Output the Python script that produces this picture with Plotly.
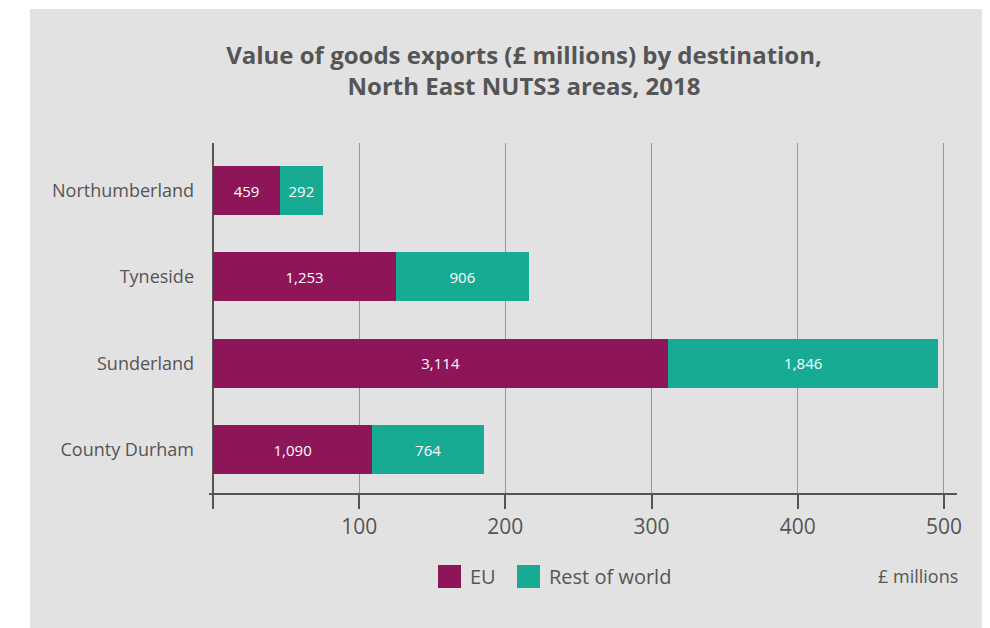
import plotly.graph_objects as go

AREAS = ["Northumberland", "Tyneside", "Sunderland", "County Durham"]
EU = [459, 1253, 3114, 1090]
REST_OF_WORLD = [292, 906, 1846, 764]
TICK_VALS = [0, 1000, 2000, 3000, 4000, 5000]
TICK_TEXT = ["", "100", "200", "300", "400", "500"]

EU_COLOR = "#8e1557"
ROW_COLOR = "#17ab94"
TEXT_COLOR = "#555555"
BG = "#e2e2e2"
FONT = "Open Sans"

W, H = 990, 628
# the page puts the figure 8px in from the top-left corner
OFF = 8
L, R, T, B = 209 - OFF, 33 + OFF, 143 - OFF, 135 + OFF


def px_x(px):
    return (px - OFF - L) / (W - L - R)


def px_y(py):
    return 1 - (py - OFF - T) / (H - T - B)


fig = go.Figure()
for name, vals, color in [("EU", EU, EU_COLOR), ("Rest of world", REST_OF_WORLD, ROW_COLOR)]:
    fig.add_trace(
        go.Bar(
            name=name,
            y=AREAS,
            x=vals,
            orientation="h",
            marker=dict(color=color, line=dict(width=0)),
            texttemplate="%{x:,}",
            textposition="inside",
            insidetextanchor="middle",
            textfont=dict(color="white", size=15, family=FONT),
            showlegend=False,
        )
    )

fig.update_layout(
    barmode="stack",
    bargap=0.434,
    width=W,
    height=H,
    margin=dict(l=L, r=R, t=T, b=B),
    paper_bgcolor=BG,
    plot_bgcolor=BG,
    font=dict(family=FONT, color=TEXT_COLOR),
    title=dict(
        text="<b>Value of goods exports (£ millions) by destination,<br>North East NUTS3 areas, 2018</b>",
        x=(524 - OFF) / W,
        xref="container",
        xanchor="center",
        y=1 - (72 - 2 * OFF) / H,
        yref="container",
        yanchor="middle",
        font=dict(size=24, color=TEXT_COLOR, family=FONT),
    ),
    xaxis=dict(
        range=[-27, 5089],
        tickvals=TICK_VALS,
        ticktext=TICK_TEXT,
        showgrid=True,
        gridcolor="#999999",
        gridwidth=1.3,
        zeroline=True,
        zerolinecolor="#555555",
        zerolinewidth=2,
        showline=True,
        linecolor="#555555",
        linewidth=2,
        ticks="outside",
        ticklen=14,
        tickwidth=2,
        tickcolor="#555555",
        tickfont=dict(size=21, color=TEXT_COLOR),
        fixedrange=True,
    ),
    yaxis=dict(
        categoryorder="array",
        categoryarray=AREAS,
        range=[3.5, -0.55],
        showgrid=False,
        zeroline=False,
        showline=False,
        ticks="",
        ticklabelstandoff=14,
        tickfont=dict(size=18, color=TEXT_COLOR),
    ),
)

shapes = [
    # white border strips outside the grey panel
    dict(type="rect", xref="paper", yref="paper", x0=px_x(0), x1=px_x(30), y0=px_y(H + OFF), y1=px_y(0),
         fillcolor="white", line=dict(width=0), layer="below"),
    dict(type="rect", xref="paper", yref="paper", x0=px_x(0), x1=px_x(W + OFF), y0=px_y(9), y1=px_y(0),
         fillcolor="white", line=dict(width=0), layer="below"),
    # legend swatches
    dict(type="rect", xref="paper", yref="paper", x0=px_x(438), x1=px_x(461), y0=px_y(588), y1=px_y(565),
         fillcolor=EU_COLOR, line=dict(width=0)),
    dict(type="rect", xref="paper", yref="paper", x0=px_x(517), x1=px_x(540), y0=px_y(588), y1=px_y(565),
         fillcolor=ROW_COLOR, line=dict(width=0)),
]
fig.update_layout(shapes=shapes)

legend_font = dict(size=20, color=TEXT_COLOR, family=FONT)
fig.add_annotation(text="EU", xref="paper", yref="paper", x=px_x(468), y=px_y(576),
                   xanchor="left", yanchor="middle", showarrow=False, font=legend_font)
fig.add_annotation(text="Rest of world", xref="paper", yref="paper", x=px_x(547), y=px_y(576),
                   xanchor="left", yanchor="middle", showarrow=False, font=legend_font)
fig.add_annotation(text="£ millions", xref="paper", yref="paper", x=px_x(960), y=px_y(576),
                   xanchor="right", yanchor="middle", showarrow=False,
                   font=dict(size=18, color=TEXT_COLOR, family=FONT))

fig.write_html("out.html")
